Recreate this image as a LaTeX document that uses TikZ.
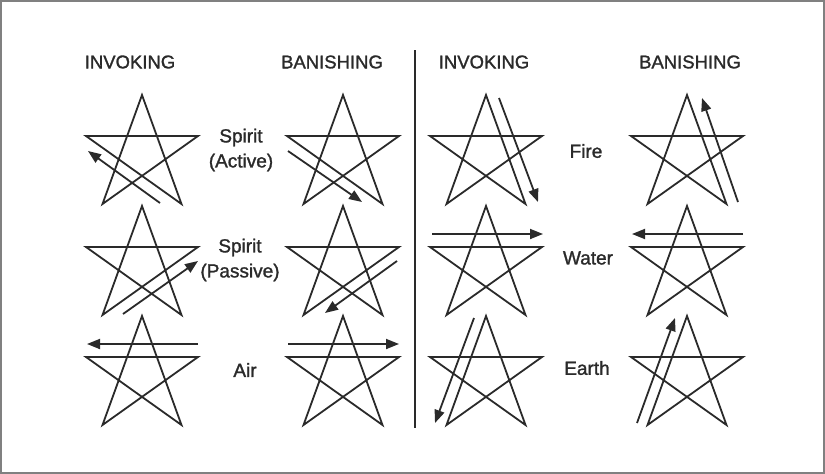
\documentclass[tikz,border=0pt]{standalone}
\usepackage{fontspec}
\setmainfont{Liberation Sans}[BoldFont=Liberation Sans, BoldFeatures={FakeBold=1.4}]
\usetikzlibrary{positioning,arrows.meta}
\definecolor{ink}{HTML}{2A2A2A}

\begin{document}
\begin{tikzpicture}[x=1pt, y=-1pt, line width=1.8pt, draw=ink,
  every node/.style={inner sep=0pt, text=ink, align=center},
  head/.style={font=\fontsize{18.5}{21}\selectfont\bfseries},
  elem/.style={font=\fontsize{19}{25}\selectfont\bfseries},
  stroke/.style={-{Triangle[length=13pt, width=10pt]}}]
  \useasboundingbox (0,0) rectangle (825,474);
  \draw[gray, line width=1.2pt] (1,1) rectangle (824,473);

  % column headings and divider
  \node[head] (h1) at (130,62) {INVOKING};
  \node[head] (h2) at (332,62) {BANISHING};
  \node[head] (h3) at (484,62) {INVOKING};
  \node[head] (h4) at (690,62) {BANISHING};
  \coordinate (d1) at (415,50);
  \coordinate (d2) at (415,428);
  \draw[line width=1.3pt] (d1) -- (d2);

  % star tops
  \coordinate (s11) at (142,95);  \coordinate (s21) at (343,95);
  \coordinate (s12) at (142,206); \coordinate (s22) at (343,206);
  \coordinate (s13) at (142,316); \coordinate (s23) at (343,316);
  \coordinate (s31) at (486,95);  \coordinate (s41) at (687,95);
  \coordinate (s32) at (486,206); \coordinate (s42) at (687,206);
  \coordinate (s33) at (486,316); \coordinate (s43) at (687,316);

  \foreach \c in {1,2,3,4}
    \foreach \r in {1,2,3}
      \draw[line join=miter] (s\c\r) -- ++(-39.5,109) -- ++(95.5,-68)
        -- ++(-112,0) -- ++(95.5,68) -- cycle;

  % element names
  \node[elem] (spa) at (241,150) {Spirit\\(Active)};
  \node[elem] (spp) at (240,260) {Spirit\\(Passive)};
  \node[elem] (air) at (245,370) {Air};
  \node[elem] (fire) at (586,151) {Fire};
  \node[elem] (water) at (588,258) {Water};
  \node[elem] (earth) at (587,368) {Earth};

  % spirit active
  \draw[stroke] ([shift={(18,108)}]s11) -- ([shift={(-54,56)}]s11);
  \draw[stroke] ([shift={(-55,56)}]s21) -- ([shift={(19,107)}]s21);
  % spirit passive
  \draw[stroke] ([shift={(-19,108)}]s12) -- ([shift={(56,55)}]s12);
  \draw[stroke] ([shift={(54,55)}]s22) -- ([shift={(-18,107)}]s22);
  % air
  \draw[stroke] ([shift={(56,28)}]s13) -- ([shift={(-55,28)}]s13);
  \draw[stroke] ([shift={(-55,28)}]s23) -- ([shift={(56,28)}]s23);
  % fire
  \draw[stroke] ([shift={(13,3)}]s31) -- ([shift={(52,107)}]s31);
  \draw[stroke] ([shift={(51,107)}]s41) -- ([shift={(15,3)}]s41);
  % water
  \draw[stroke] ([shift={(-54,28)}]s32) -- ([shift={(57,28)}]s32);
  \draw[stroke] ([shift={(56,28)}]s42) -- ([shift={(-55,28)}]s42);
  % earth
  \draw[stroke] ([shift={(-12,2)}]s33) -- ([shift={(-51,107)}]s33);
  \draw[stroke] ([shift={(-50,107)}]s43) -- ([shift={(-12,2)}]s43);
\end{tikzpicture}
\end{document}
